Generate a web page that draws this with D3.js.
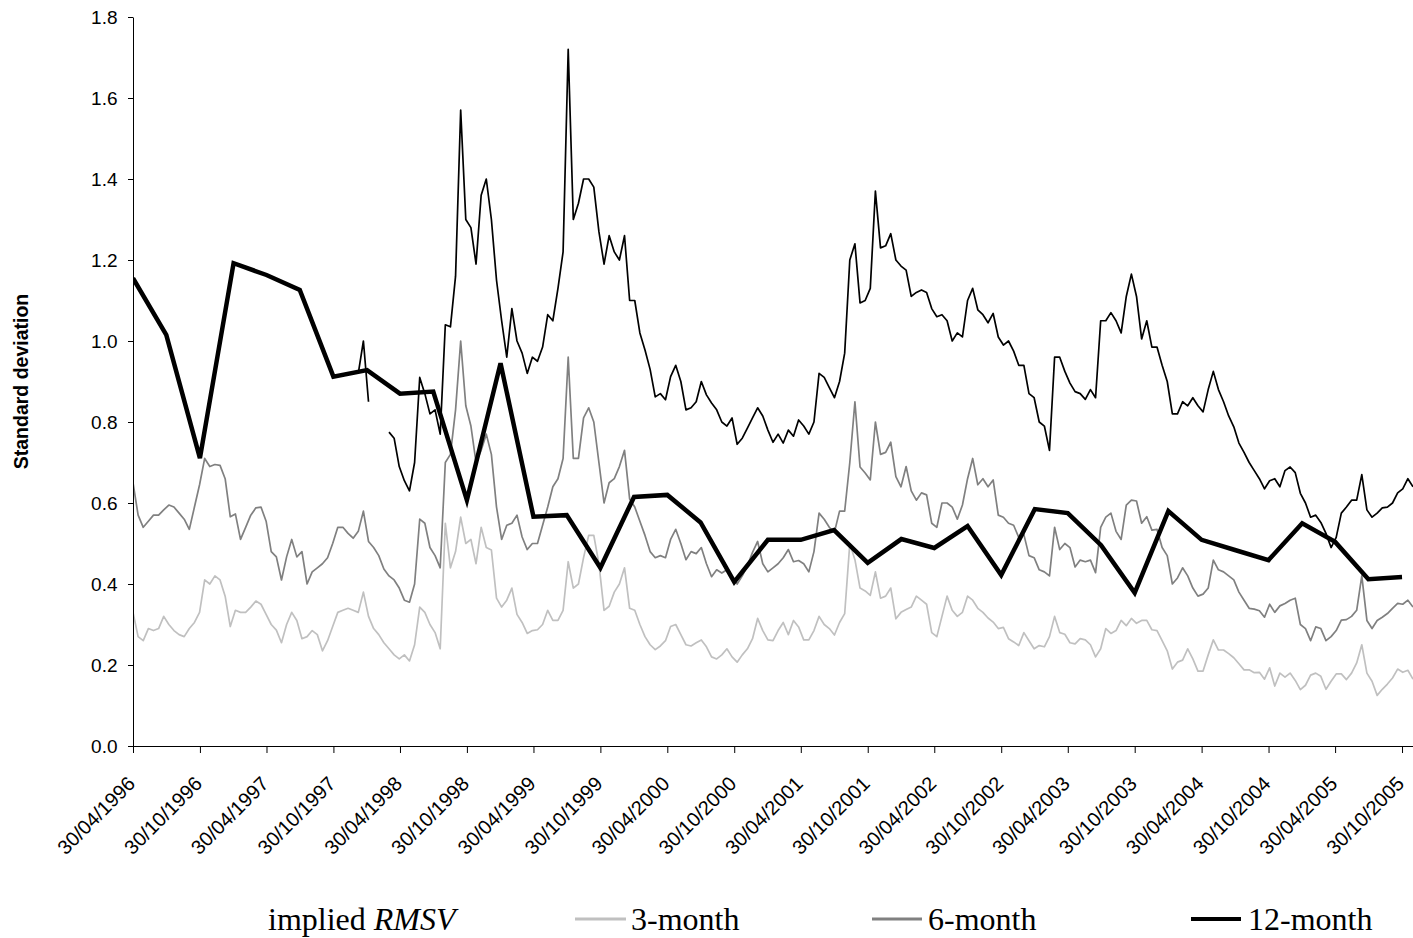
<!DOCTYPE html>
<html>
<head>
<meta charset="utf-8">
<script src="https://cdnjs.cloudflare.com/ajax/libs/d3/7.8.5/d3.min.js"></script>
<style>
    body { margin: 0; background: #fff; }
    svg { display: block; }
</style>
</head>
<body>
<div id="chart"></div>
<script>
// implied RMSV, every 14 days from 30/04/1996
const seriesStart = "30/04/1996";
const stepDays = 14;

const rmsv3m = [
    0.33,0.27,0.26,0.29,0.285,0.29,0.32,0.30,0.285,0.275,
    0.27,0.29,0.305,0.33,0.41,0.40,0.42,0.41,0.37,0.295,
    0.335,0.33,0.33,0.343,0.358,0.35,0.325,0.30,0.286,0.255,
    0.30,0.33,0.31,0.265,0.27,0.285,0.275,0.235,0.26,0.295,
    0.33,0.335,0.34,0.335,0.33,0.38,0.32,0.29,0.275,0.255,
    0.24,0.225,0.215,0.225,0.21,0.25,0.343,0.33,0.30,0.28,
    0.24,0.55,0.44,0.48,0.565,0.50,0.51,0.45,0.54,0.49,
    0.484,0.365,0.343,0.36,0.39,0.325,0.305,0.278,0.285,0.287,
    0.30,0.335,0.31,0.31,0.335,0.455,0.39,0.40,0.465,0.52,
    0.52,0.45,0.335,0.345,0.38,0.40,0.44,0.34,0.335,0.30,
    0.27,0.25,0.238,0.247,0.26,0.295,0.30,0.275,0.25,0.247,
    0.255,0.262,0.245,0.22,0.215,0.225,0.24,0.22,0.207,0.225,
    0.24,0.265,0.315,0.285,0.262,0.26,0.285,0.305,0.275,0.31,
    0.294,0.262,0.262,0.285,0.32,0.30,0.29,0.274,0.305,0.327,
    0.50,0.46,0.39,0.383,0.372,0.43,0.365,0.37,0.39,0.314,
    0.33,0.337,0.343,0.37,0.36,0.35,0.28,0.27,0.32,0.37,
    0.335,0.32,0.33,0.37,0.36,0.34,0.33,0.316,0.306,0.29,
    0.293,0.265,0.257,0.248,0.28,0.26,0.24,0.248,0.245,0.27,
    0.32,0.28,0.276,0.255,0.252,0.265,0.262,0.25,0.22,0.24,
    0.29,0.278,0.285,0.31,0.297,0.315,0.303,0.31,0.31,0.287,
    0.285,0.26,0.235,0.19,0.207,0.212,0.24,0.215,0.185,0.185,
    0.225,0.262,0.237,0.237,0.228,0.218,0.203,0.188,0.188,0.181,
    0.182,0.165,0.193,0.148,0.18,0.17,0.18,0.162,0.139,0.15,
    0.175,0.18,0.172,0.14,0.16,0.178,0.178,0.164,0.18,0.205,
    0.25,0.18,0.16,0.125,0.14,0.153,0.168,0.19,0.182,0.187,0.165
];

const rmsv6m = [
    0.65,0.57,0.54,0.555,0.57,0.57,0.583,0.595,0.59,0.575,
    0.56,0.535,0.59,0.645,0.71,0.69,0.695,0.693,0.66,0.566,
    0.573,0.51,0.54,0.57,0.588,0.59,0.555,0.48,0.467,0.41,
    0.467,0.51,0.467,0.48,0.40,0.43,0.44,0.45,0.465,0.50,
    0.54,0.54,0.525,0.513,0.53,0.58,0.505,0.49,0.47,0.437,
    0.42,0.41,0.39,0.36,0.355,0.40,0.56,0.55,0.49,0.47,
    0.44,0.70,0.72,0.83,1.0,0.84,0.79,0.70,0.73,0.77,
    0.72,0.59,0.51,0.545,0.55,0.57,0.516,0.485,0.50,0.50,
    0.545,0.59,0.64,0.66,0.71,0.96,0.71,0.71,0.81,0.835,
    0.80,0.70,0.60,0.65,0.66,0.69,0.73,0.61,0.59,0.555,
    0.52,0.48,0.465,0.47,0.465,0.51,0.535,0.50,0.46,0.48,
    0.475,0.49,0.45,0.418,0.435,0.427,0.435,0.418,0.40,0.42,
    0.445,0.478,0.505,0.45,0.43,0.44,0.45,0.465,0.485,0.455,
    0.458,0.45,0.43,0.48,0.575,0.56,0.54,0.528,0.58,0.58,
    0.70,0.85,0.689,0.674,0.657,0.80,0.72,0.725,0.75,0.665,
    0.64,0.69,0.63,0.607,0.625,0.62,0.55,0.54,0.60,0.60,
    0.59,0.56,0.595,0.66,0.71,0.645,0.66,0.64,0.657,0.57,
    0.565,0.55,0.545,0.515,0.522,0.47,0.465,0.435,0.43,0.42,
    0.54,0.485,0.50,0.49,0.442,0.459,0.455,0.459,0.428,0.54,
    0.565,0.575,0.53,0.51,0.595,0.607,0.605,0.55,0.566,0.533,
    0.535,0.49,0.47,0.40,0.415,0.44,0.42,0.39,0.37,0.375,
    0.39,0.459,0.435,0.43,0.42,0.41,0.38,0.36,0.34,0.338,
    0.334,0.318,0.35,0.33,0.346,0.352,0.36,0.365,0.30,0.29,
    0.26,0.294,0.29,0.26,0.27,0.285,0.311,0.312,0.32,0.335,
    0.42,0.31,0.29,0.31,0.318,0.327,0.34,0.352,0.35,0.36,0.343
];

// 12-month implied series only starts early 1998
const rmsv12m = [
    null,null,null,null,null,null,null,null,null,null,
    null,null,null,null,null,null,null,null,null,null,
    null,null,null,null,null,null,null,null,null,null,
    null,null,null,null,null,null,null,null,null,null,
    null,null,null,null,0.92,1.0,0.85,null,null,null,
    0.775,0.76,0.69,0.655,0.63,0.70,0.91,0.87,0.82,0.83,
    0.77,1.04,1.035,1.16,1.57,1.30,1.28,1.19,1.36,1.40,
    1.30,1.15,1.05,0.96,1.08,1.0,0.97,0.92,0.96,0.95,
    0.985,1.065,1.05,1.13,1.22,1.72,1.30,1.34,1.40,1.40,
    1.38,1.27,1.19,1.26,1.22,1.20,1.26,1.10,1.10,1.02,
    0.978,0.93,0.862,0.87,0.855,0.912,0.94,0.90,0.83,0.835,
    0.85,0.90,0.867,0.847,0.83,0.80,0.79,0.81,0.745,0.76,
    0.785,0.81,0.835,0.815,0.78,0.75,0.77,0.748,0.78,0.765,
    0.805,0.79,0.77,0.80,0.92,0.91,0.885,0.86,0.90,0.97,
    1.20,1.24,1.094,1.10,1.13,1.37,1.23,1.235,1.265,1.20,
    1.185,1.175,1.11,1.12,1.126,1.12,1.08,1.06,1.065,1.05,
    1.0,1.02,1.01,1.10,1.13,1.077,1.065,1.045,1.068,1.01,
    0.99,1.0,0.975,0.94,0.94,0.87,0.86,0.80,0.79,0.73,
    0.96,0.96,0.925,0.896,0.875,0.87,0.856,0.88,0.86,1.05,
    1.05,1.07,1.05,1.02,1.11,1.165,1.11,1.005,1.05,0.985,
    0.985,0.94,0.90,0.82,0.82,0.85,0.84,0.86,0.84,0.825,
    0.88,0.925,0.88,0.85,0.815,0.788,0.748,0.725,0.70,0.68,
    0.66,0.635,0.655,0.66,0.64,0.68,0.689,0.675,0.624,0.60,
    0.565,0.57,0.552,0.525,0.49,0.515,0.575,0.59,0.607,0.607,
    0.67,0.583,0.565,0.575,0.588,0.59,0.60,0.625,0.635,0.66,0.64
];

// thick line, one value a quarter from 30/04/1996
const quarterly = [
    1.155,1.015,0.711,1.192,1.163,1.126,0.912,0.928,0.870,0.875,
    0.607,0.945,0.566,0.570,0.440,0.615,0.620,0.552,0.405,0.509,
    0.509,0.533,0.452,0.511,0.489,0.543,0.422,0.585,0.575,0.496,
    0.378,0.580,0.509,0.484,0.459,0.550,0.504,0.412,0.417
];

const xTickLabels = [
    "30/04/1996","30/10/1996","30/04/1997","30/10/1997","30/04/1998",
    "30/10/1998","30/04/1999","30/10/1999","30/04/2000","30/10/2000",
    "30/04/2001","30/10/2001","30/04/2002","30/10/2002","30/04/2003",
    "30/10/2003","30/04/2004","30/10/2004","30/04/2005","30/10/2005"
];
const yTicks = [0, 0.2, 0.4, 0.6, 0.8, 1.0, 1.2, 1.4, 1.6, 1.8];
const legendLabels = ["3-month", "6-month", "12-month"];

document.addEventListener("DOMContentLoaded", drawChart)

function drawChart(){
    const width = 1413;
    const height = 938;
    const plot = {left: 133, right: 1413, top: 17, bottom: 746};
    const sans = "'Liberation Sans', Arial, sans-serif";
    const serif = "'Liberation Serif', 'Times New Roman', serif";

    const parse = d3.timeParse("%d/%m/%Y");
    const start = parse(seriesStart);

    const x = d3.scaleTime()
        .domain([start, parse("29/11/2005")])
        .range([plot.left, plot.right]);
    const y = d3.scaleLinear()
        .domain([0, 1.8])
        .range([plot.bottom, plot.top]);

    const svg = d3.select("#chart").append("svg")
        .attr("width", width)
        .attr("height", height);

    svg.append("defs").append("clipPath")
        .attr("id", "plotClip")
        .append("rect")
        .attr("x", plot.left)
        .attr("y", 0)
        .attr("width", plot.right - plot.left)
        .attr("height", plot.bottom);

    const toPoints = vals => vals.map((v, i) => ({date: d3.timeDay.offset(start, i * stepDays), v: v}));

    const line = d3.line()
        .defined(d => d.v != null)
        .x(d => x(d.date))
        .y(d => y(d.v));

    const lines = svg.append("g").attr("clip-path", "url(#plotClip)");

    const daily = [
        {vals: rmsv3m, color: "#c0c0c0"},
        {vals: rmsv6m, color: "#808080"},
        {vals: rmsv12m, color: "#000000"}
    ];
    daily.forEach(s => {
        lines.append("path")
            .datum(toPoints(s.vals))
            .attr("d", line)
            .attr("fill", "none")
            .attr("stroke", s.color)
            .attr("stroke-width", 1.7)
            .attr("stroke-linejoin", "round");
    })

    const qPoints = quarterly.map((v, i) => ({date: d3.timeMonth.offset(start, i * 3), v: v}));
    lines.append("path")
        .datum(qPoints)
        .attr("d", line)
        .attr("fill", "none")
        .attr("stroke", "#000")
        .attr("stroke-width", 4.5)
        .attr("stroke-linejoin", "miter");

    // axes
    const yAxis = svg.append("g")
        .attr("transform", "translate(" + plot.left + ",0)")
        .call(d3.axisLeft(y).tickValues(yTicks).tickFormat(d3.format(".1f")).tickSize(5).tickSizeOuter(0));
    yAxis.selectAll("text")
        .attr("x", -15.5)
        .style("font-size", "19px")
        .style("font-family", sans);

    const xAxis = svg.append("g")
        .attr("transform", "translate(0," + plot.bottom + ")")
        .call(d3.axisBottom(x).tickValues(xTickLabels.map(parse)).tickSize(7).tickSizeOuter(0)
            .tickFormat(d3.timeFormat("%d/%m/%Y")));
    xAxis.selectAll("text")
        .attr("x", 0)
        .attr("y", 0)
        .attr("dy", "0.35em")
        .attr("transform", "translate(-2,34) rotate(-45)")
        .style("text-anchor", "end")
        .style("font-size", "20px")
        .style("font-family", sans);

    svg.selectAll(".domain, .tick line").attr("stroke", "#000");

    svg.append("text")
        .attr("transform", "translate(28,381.5) rotate(-90)")
        .attr("text-anchor", "middle")
        .style("font-family", sans)
        .style("font-weight", "bold")
        .style("font-size", "19.5px")
        .text("Standard deviation");

    // legend
    const legendY = 930;
    const title = svg.append("text")
        .attr("x", 268)
        .attr("y", legendY)
        .style("font-family", serif)
        .style("font-size", "32px");
    title.append("tspan").text("implied ");
    title.append("tspan").style("font-style", "italic").text("RMSV");

    const legendLayout = [
        {x1: 575, x2: 626, tx: 631, color: "#c0c0c0", w: 3},
        {x1: 872, x2: 922, tx: 928, color: "#808080", w: 3},
        {x1: 1191, x2: 1241, tx: 1248, color: "#000", w: 4}
    ];
    legendLabels.forEach((label, i) => {
        const l = legendLayout[i];
        svg.append("line")
            .attr("x1", l.x1).attr("x2", l.x2)
            .attr("y1", 919).attr("y2", 919)
            .attr("stroke", l.color)
            .attr("stroke-width", l.w);
        svg.append("text")
            .attr("x", l.tx)
            .attr("y", legendY)
            .style("font-family", serif)
            .style("font-size", "32px")
            .text(label);
    })
}
</script>
</body>
</html>
